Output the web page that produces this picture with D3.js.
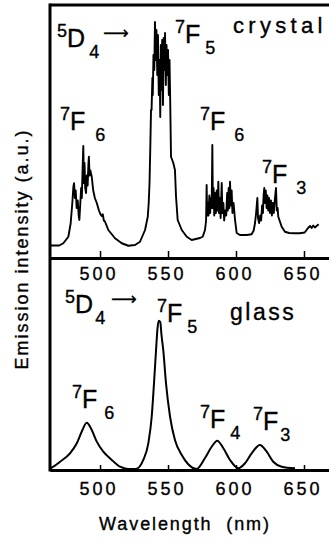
<!DOCTYPE html>
<html>
<head>
<meta charset="utf-8">
<script src="https://cdn.jsdelivr.net/npm/d3@7"></script>
<style>
  body { margin: 0; background: #fff; }
  text { font-family: "Liberation Sans", Arial, sans-serif; fill: #000; stroke: #000; stroke-width: 0.35px; }
</style>
</head>
<body>
<div id="chart"></div>
<script>
// --- data ---
const tickValues = [500, 550, 600, 650];

// crystal spectrum (wavelength nm, intensity a.u.)
const crystalWl = [
  463.2, 470.0, 473.0, 476.7, 478.4, 479.6, 480.4, 480.9, 481.5, 482.1, 482.8, 483.6, 484.3, 484.8,
  485.5, 486.1, 486.6, 487.2, 487.7, 488.1, 488.6, 489.1, 489.7, 490.3, 490.9, 491.4, 491.8, 492.3,
  492.9, 493.9, 495.0, 496.2, 497.6, 499.2, 500.3, 501.2, 502.0, 502.8, 503.7, 506.1, 511.0, 516.0,
  520.8, 525.7, 529.4, 533.1, 535.1, 535.8, 536.4, 537.0, 537.5,
  537.9, 538.5, 538.8, 539.3, 539.9, 540.4, 541.0, 541.5, 542.1, 542.6, 543.2, 543.8, 544.3, 544.7,
  545.2, 545.7, 546.3, 546.8, 547.3, 547.8, 548.4, 548.9, 549.4, 550.0, 550.6, 551.1, 551.6, 552.2,
  553.9, 555.1, 555.9, 557.1, 560.1, 563.8, 567.4, 573.5, 575.5,
  577.2, 578.0, 578.4, 578.8, 579.3, 579.8, 580.4, 581.0, 581.6, 582.1, 582.6, 583.0, 583.5, 584.0,
  584.6, 585.2, 585.8, 586.4, 587.0, 587.5, 588.1, 588.7, 589.5, 590.0, 590.7, 591.3, 592.0, 592.8,
  593.5, 594.0, 594.6, 595.1, 595.6, 596.2, 596.8, 597.4, 598.2, 599.3, 600.5, 602.9, 607.9, 611.5,
  613.0, 614.0, 614.8, 615.7, 616.2, 617.0, 617.8, 618.5, 619.2, 619.8, 620.3, 620.8, 621.3, 621.9,
  622.5, 623.1, 623.7, 624.3, 625.0, 625.7, 626.4, 627.1, 627.8, 628.5, 629.4, 630.0, 630.6, 631.1,
  633.6, 636.0, 639.0, 643.0, 647.0, 650.5, 653.0, 654.5, 655.6, 656.8, 658.0, 659.3, 660.8
];
const crystalInt = [
  5.0, 5.0, 5.9, 8.5, 13.9, 21.9, 28.5, 29.9, 24.0, 27.0, 20.0, 23.0, 17.0, 15.2,
  22.0, 28.0, 24.0, 36.0, 44.8, 30.0, 38.0, 28.0, 26.0, 33.0, 29.0, 37.0, 40.5, 33.0,
  35.0, 32.5, 27.0, 24.0, 22.0, 19.0, 17.5, 16.8, 17.5, 15.0, 14.5, 11.2, 7.9, 5.9,
  4.9, 5.2, 6.5, 11.2, 16.5, 22.0, 30.0, 45.0, 59.2,
  59.2, 72.0, 65.2, 81.2, 75.2, 94.4, 79.2, 91.2, 73.2, 89.2, 65.2, 79.2, 56.4, 85.2,
  67.2, 87.2, 61.2, 88.0, 75.2, 90.0, 69.2, 85.2, 73.2, 83.2, 65.2, 79.2, 63.2, 40.5,
  38.0, 35.2, 24.5, 15.2, 11.2, 8.5, 7.2, 8.0, 8.5,
  11.2, 15.0, 29.2, 17.0, 22.0, 17.0, 25.0, 18.0, 24.0, 20.0, 45.2, 20.0, 28.0, 17.0,
  26.0, 18.0, 27.0, 19.0, 30.5, 18.0, 24.0, 16.0, 30.0, 18.0, 22.0, 15.0, 19.0, 17.0,
  26.0, 19.0, 28.0, 20.0, 30.5, 21.0, 27.0, 18.0, 22.0, 15.2, 10.0, 9.2, 9.2, 9.5,
  11.0, 14.0, 18.0, 24.0, 16.0, 14.0, 17.0, 15.0, 21.0, 18.0, 25.0, 28.0, 22.0, 27.0,
  20.0, 25.0, 19.0, 24.0, 18.0, 23.0, 17.0, 22.0, 18.0, 23.0, 28.0, 19.0, 20.0, 16.5,
  12.5, 10.5, 10.0, 9.9, 9.9, 10.2, 12.0, 12.8, 12.0, 13.0, 12.2, 12.8, 13.5
];

// glass spectrum (wavelength nm, intensity a.u.)
const glassWl = [
  463.2, 465.7, 470.6, 477.9, 482.9, 486.5, 490.2, 493.9, 497.6, 502.4, 508.6, 514.7, 520.6, 526.5,
  531.8, 535.5, 538.0, 539.7, 541.2, 542.3, 543.2, 544.3, 545.2, 546.5, 548.5, 551.5, 555.1, 560.1,
  564.7, 571.1, 577.2, 582.1, 586.2, 590.7, 595.6, 601.7, 606.6, 611.5, 617.6, 622.6, 627.4, 633.6,
  643.4
];
const glassInt = [
  1.0, 2.2, 5.5, 11.1, 17.8, 25.5, 31.5, 26.7, 18.9, 12.2, 6.7, 2.2, 0.7, 0.7,
  6.7, 17.8, 35.5, 58.0, 80.0, 94.7, 99.5, 98.7, 90.0, 80.0, 58.0, 35.5, 20.0, 10.0,
  4.0, 0.7, 8.0, 15.5, 19.5, 14.5, 6.7, 1.1, 4.5, 11.1, 16.7, 12.2, 5.5, 2.2,
  1.1
];

// transition labels: sup, main letter, sub, anchor in data units
const crystalLabels = [
  { sup: "5", main: "D", sub: "4", wl: 468.4, val: 84.4, gap: 4, arrow: true },
  { sup: "7", main: "F", sub: "5", wl: 555.1, val: 86.0, gap: 5 },
  { sup: "7", main: "F", sub: "6", wl: 470.6, val: 51.2, gap: 10 },
  { sup: "7", main: "F", sub: "6", wl: 573.5, val: 51.2, gap: 9 },
  { sup: "7", main: "F", sub: "3", wl: 619.1, val: 30.0, gap: 9 }
];
const glassLabels = [
  { sup: "5", main: "D", sub: "4", wl: 474.3, val: 104.7, gap: 2, arrow: true },
  { sup: "7", main: "F", sub: "5", wl: 541.9, val: 98.7, gap: 5 },
  { sup: "7", main: "F", sub: "6", wl: 479.4, val: 41.3, gap: 7 },
  { sup: "7", main: "F", sub: "4", wl: 573.5, val: 28.0, gap: 5 },
  { sup: "7", main: "F", sub: "3", wl: 612.5, val: 26.7, gap: 2 }
];

// --- drawing ---
const width = 329, height = 540;
const left = 50, right = 329, topY = 5, midY = 258, botY = 470;

const svg = d3.select("#chart").append("svg")
  .attr("width", width)
  .attr("height", height);

const x = d3.scaleLinear().domain([463.2, 668.4]).range([left, right]);
const yC = d3.scaleLinear().domain([0, 100]).range([midY, 8]);
const yG = d3.scaleLinear().domain([0, 100]).range([botY, 320]);

// spectra
const crystal = crystalWl.map((w, i) => ({ w: w, v: crystalInt[i] }));
const glass = glassWl.map((w, i) => ({ w: w, v: glassInt[i] }));

svg.append("path")
  .datum(crystal)
  .attr("fill", "none")
  .attr("stroke", "#000")
  .attr("stroke-width", 1.9)
  .attr("stroke-linejoin", "round")
  .attr("d", d3.line().x(d => x(d.w)).y(d => yC(d.v)));

svg.append("path")
  .datum(glass)
  .attr("fill", "none")
  .attr("stroke", "#000")
  .attr("stroke-width", 2)
  .attr("d", d3.line().x(d => x(d.w)).y(d => yG(d.v)).curve(d3.curveMonotoneX));

// axes (ticks point inwards)
function drawAxis(yPos, tickLen, pad) {
  const g = svg.append("g")
    .attr("transform", `translate(0,${yPos})`)
    .call(d3.axisBottom(x).tickValues(tickValues).tickSize(-tickLen).tickSizeOuter(0).tickPadding(pad));
  g.select(".domain").attr("stroke-width", 3);
  g.selectAll(".tick line").attr("stroke-width", 1.5);
  g.selectAll(".tick text")
    .attr("dx", -1.5)
    .style("font-family", '"Liberation Sans", Arial, sans-serif')
    .style("font-size", "18px")
    .style("letter-spacing", "3px");
}
drawAxis(midY, 7, 9);
drawAxis(botY, 5, 12);

// frame: left spine and top border
svg.append("line")
  .attr("x1", left).attr("x2", left)
  .attr("y1", topY - 1.5).attr("y2", botY + 1.5)
  .attr("stroke", "#000").attr("stroke-width", 3);
svg.append("line")
  .attr("x1", left).attr("x2", right)
  .attr("y1", topY).attr("y2", topY)
  .attr("stroke", "#000").attr("stroke-width", 3);

// transition labels
function drawLabels(labels, yScale) {
  labels.forEach(d => {
    const px = x(d.wl), py = yScale(d.val);
    const t = svg.append("text").attr("x", px).attr("y", py);
    t.append("tspan").attr("dy", -10).style("font-size", "18px").text(d.sup);
    t.append("tspan").attr("dy", 10).attr("dx", 0).style("font-size", "25px").text(d.main);
    t.append("tspan").attr("dy", 11).attr("dx", d.gap).style("font-size", "18px").text(d.sub);
    if (d.arrow) {
      svg.append("text")
        .attr("x", px + 46)
        .attr("y", py - 8)
        .style("font-family", '"DejaVu Sans", sans-serif')
        .style("font-size", "18px")
        .style("stroke-width", "0.2px")
        .text("\u27F6");
    }
  });
}
drawLabels(crystalLabels, yC);
drawLabels(glassLabels, yG);

// sample names
svg.append("text")
  .attr("x", 233).attr("y", 33)
  .style("font-size", "22px")
  .style("letter-spacing", "4.3px")
  .text("crystal");
svg.append("text")
  .attr("x", 230).attr("y", 320)
  .style("font-size", "23px")
  .style("letter-spacing", "2.5px")
  .text("glass");

// axis titles
svg.append("text")
  .attr("x", 185).attr("y", 530)
  .attr("text-anchor", "middle")
  .style("font-size", "18px")
  .style("letter-spacing", "1.9px")
  .style("white-space", "pre")
  .text("Wavelength  (nm)");
svg.append("text")
  .attr("transform", "translate(28,249) rotate(-90)")
  .attr("text-anchor", "middle")
  .style("font-size", "18px")
  .style("letter-spacing", "2px")
  .text("Emission intensity (a.u.)");
</script>
</body>
</html>
